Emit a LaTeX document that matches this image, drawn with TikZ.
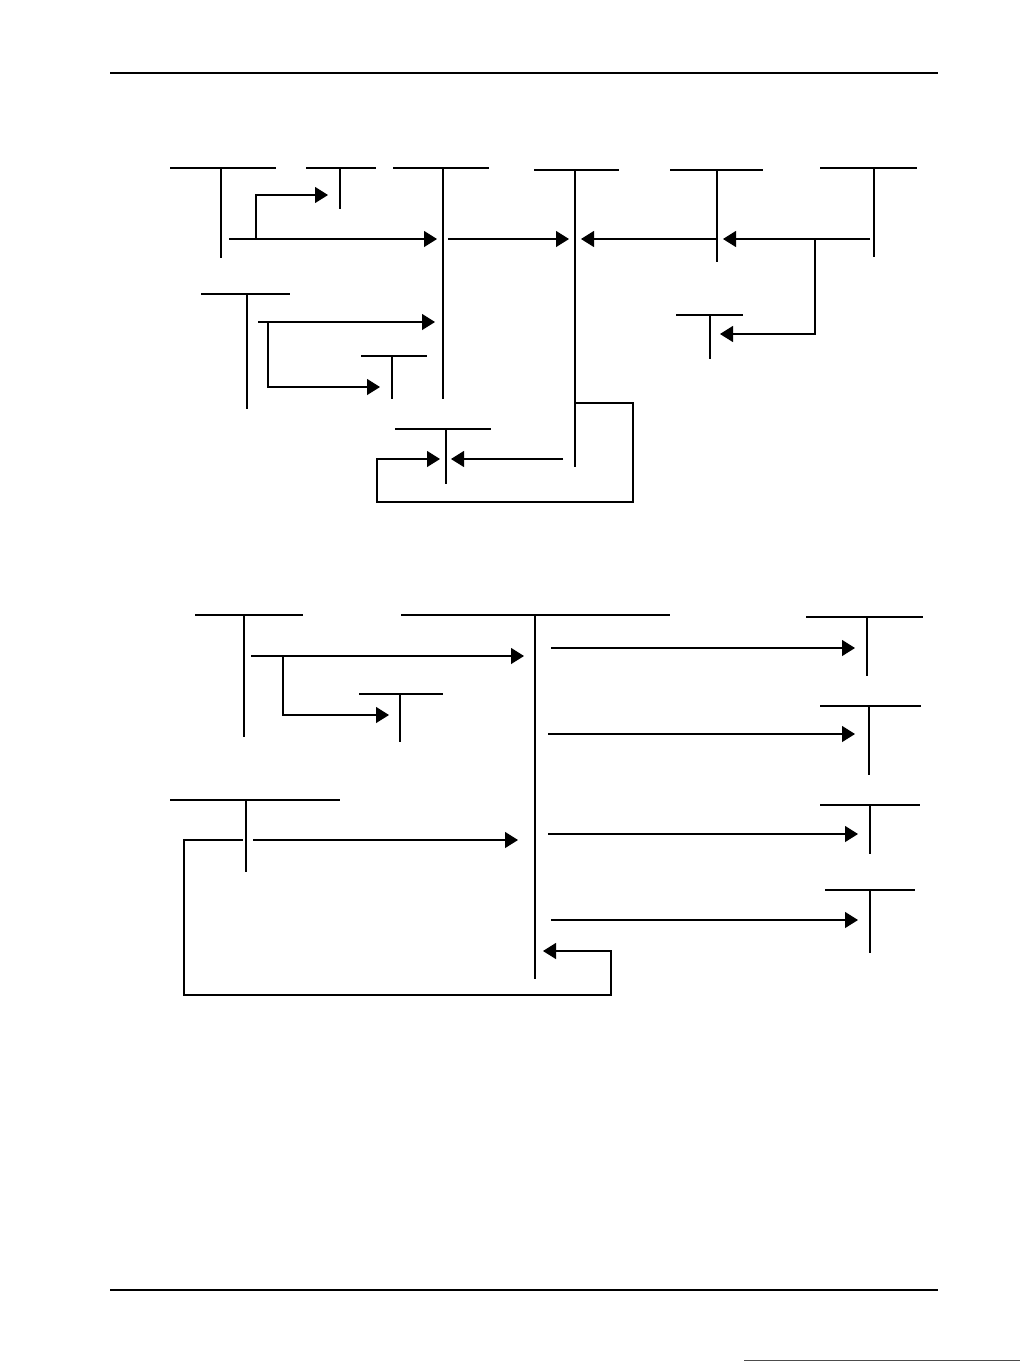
\documentclass[tikz,border=0pt]{standalone}
\usetikzlibrary{arrows.meta}
\tikzset{
  ln/.style={line width=1.2pt, black},
  arr/.style={ln, -{Triangle[length=13pt,width=16pt]}},
  rule/.style={line width=1.2pt, black},
}
% #1 name, #2 left x, #3 right x, #4 stem x, #5 top y, #6 bottom y
\newcommand\teeshape[6]{%
  \coordinate (#1-l) at (#2,#5);
  \coordinate (#1-r) at (#3,#5);
  \coordinate (#1-t) at (#4,#5);
  \coordinate (#1-b) at (#4,#6);
  \draw[ln] (#1-l) -- (#1-r);
  \draw[ln] (#1-t) -- (#1-b);
}
\begin{document}
\begin{tikzpicture}[x=1pt,y=-1pt]
\useasboundingbox (0,0) rectangle (1021,1361);
% page rules
\coordinate (hl) at (110,73); \coordinate (hr) at (938,73);
\coordinate (fl) at (110,1290); \coordinate (fr) at (938,1290);
\draw[rule] (hl) -- (hr);
\draw[rule] (fl) -- (fr);
\coordinate (pl) at (744,1360); \coordinate (pr) at (1020,1360);
\draw[line width=1pt, black!70] (pl) -- (pr);

% ===== upper diagram =====
\teeshape{t1}{170}{276}{221}{168}{258}
\teeshape{t2}{306}{376}{340}{168}{209}
\teeshape{t3}{393}{489}{443}{168}{399}
\teeshape{t4}{534}{619}{575}{170}{467}
\teeshape{t5}{670}{763}{717}{170}{262}
\teeshape{t6}{820}{917}{874}{168}{257}
\teeshape{t7}{676}{743}{710}{315}{359}
\teeshape{t8}{201}{290}{247}{294}{409}
\teeshape{t9}{361}{427}{392}{356}{399}
\teeshape{t10}{395}{491}{446}{429}{484}

% t1 -> t3 and t2
\coordinate (a1s) at (229,239); \coordinate (a1e) at (437,239);
\coordinate (a1b) at (256,239); \coordinate (a1u) at (256,195); \coordinate (a1e2) at (328,195);
\draw[arr] (a1s) -- (a1e);
\draw[arr] (a1b) -- (a1u) -- (a1e2);
% t3 -> t4
\coordinate (a2s) at (448,239); \coordinate (a2e) at (569,239);
\draw[arr] (a2s) -- (a2e);
% t5 -> t4
\coordinate (a3s) at (717,239); \coordinate (a3e) at (581,239);
\draw[arr] (a3s) -- (a3e);
% t6 -> t5 and t7
\coordinate (a4s) at (870,239); \coordinate (a4e) at (723,239);
\coordinate (a4b) at (815,239); \coordinate (a4d) at (815,334); \coordinate (a4e2) at (720,334);
\draw[arr] (a4s) -- (a4e);
\draw[arr] (a4b) -- (a4d) -- (a4e2);
% t8 -> t3 and t9
\coordinate (a5s) at (258,322); \coordinate (a5e) at (435,322);
\coordinate (a5b) at (268,322); \coordinate (a5d) at (268,387); \coordinate (a5e2) at (380,387);
\draw[arr] (a5s) -- (a5e);
\draw[arr] (a5b) -- (a5d) -- (a5e2);
% t4 -> t10 (right side)
\coordinate (a6s) at (563,459); \coordinate (a6e) at (451,459);
\draw[arr] (a6s) -- (a6e);
% t4 loop -> t10 (left side)
\coordinate (l1) at (575,403); \coordinate (l2) at (633,403); \coordinate (l3) at (633,502);
\coordinate (l4) at (377,502); \coordinate (l5) at (377,459); \coordinate (l6) at (440,459);
\draw[arr] (l1) -- (l2) -- (l3) -- (l4) -- (l5) -- (l6);

% ===== lower diagram =====
\teeshape{t11}{195}{303}{244}{615}{737}
\teeshape{t12}{359}{443}{400}{694}{742}
\teeshape{t13}{170}{340}{246}{800}{872}
\teeshape{t14}{401}{670}{535}{615}{979}
\teeshape{t15}{806}{923}{867}{617}{676}
\teeshape{t16}{820}{921}{869}{706}{775}
\teeshape{t17}{820}{920}{870}{805}{854}
\teeshape{t18}{825}{915}{870}{890}{953}

% t11 -> t14 and t12
\coordinate (b1s) at (251,656); \coordinate (b1e) at (524,656);
\coordinate (b1b) at (283,656); \coordinate (b1d) at (283,715); \coordinate (b1e2) at (389,715);
\draw[arr] (b1s) -- (b1e);
\draw[arr] (b1b) -- (b1d) -- (b1e2);
% t13 -> t14
\coordinate (b2s) at (253,840); \coordinate (b2e) at (518,840);
\draw[arr] (b2s) -- (b2e);
% loop from t13 back to t14
\coordinate (m1) at (243,840); \coordinate (m2) at (184,840); \coordinate (m3) at (184,995);
\coordinate (m4) at (611,995); \coordinate (m5) at (611,951); \coordinate (m6) at (543,951);
\draw[arr] (m1) -- (m2) -- (m3) -- (m4) -- (m5) -- (m6);
% t14 -> t15..t18
\coordinate (c1s) at (551,648); \coordinate (c1e) at (855,648);
\coordinate (c2s) at (548,734); \coordinate (c2e) at (855,734);
\coordinate (c3s) at (548,834); \coordinate (c3e) at (858,834);
\coordinate (c4s) at (551,920); \coordinate (c4e) at (858,920);
\draw[arr] (c1s) -- (c1e);
\draw[arr] (c2s) -- (c2e);
\draw[arr] (c3s) -- (c3e);
\draw[arr] (c4s) -- (c4e);
\end{tikzpicture}
\end{document}
